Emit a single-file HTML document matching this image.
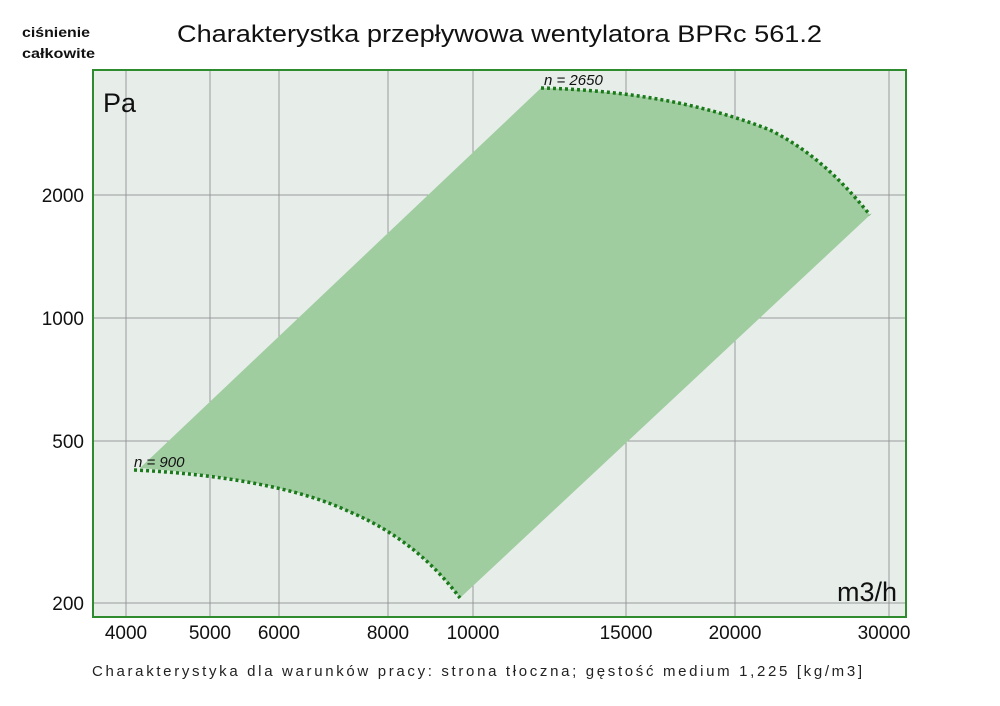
<!DOCTYPE html>
<html><head><meta charset="utf-8"><style>
body{margin:0;background:#fff;}
svg{display:block;font-family:"Liberation Sans","DejaVu Sans",sans-serif;}
</style></head><body>
<svg width="1000" height="706" viewBox="0 0 1000 706">
<rect x="0" y="0" width="1000" height="706" fill="#fff"/>
<text x="22" y="37" font-size="14" font-weight="bold" fill="#111" textLength="68" lengthAdjust="spacingAndGlyphs">ciśnienie</text>
<text x="22" y="58" font-size="14" font-weight="bold" fill="#111" textLength="73" lengthAdjust="spacingAndGlyphs">całkowite</text>
<text x="177" y="42" font-size="24" fill="#111" textLength="645" lengthAdjust="spacingAndGlyphs">Charakterystka przepływowa wentylatora BPRc 561.2</text>
<rect x="93" y="70" width="813" height="547" fill="#e7eeea"/>
<g stroke="#999" stroke-width="1">
<line x1="126" y1="70" x2="126" y2="617"/>
<line x1="210" y1="70" x2="210" y2="617"/>
<line x1="279" y1="70" x2="279" y2="617"/>
<line x1="388" y1="70" x2="388" y2="617"/>
<line x1="473" y1="70" x2="473" y2="617"/>
<line x1="626" y1="70" x2="626" y2="617"/>
<line x1="735" y1="70" x2="735" y2="617"/>
<line x1="889" y1="70" x2="889" y2="617"/>
<line x1="93" y1="195" x2="906" y2="195"/>
<line x1="93" y1="318" x2="906" y2="318"/>
<line x1="93" y1="441" x2="906" y2="441"/>
<line x1="93" y1="603" x2="906" y2="603"/>
</g>
<path d="M140,468 L541,88 C620,90 700,102 770,130 C810,150 840,178 870,215 L460,598 C435,565 400,533 350,512 C300,488 220,474 140,468 Z" fill="#a0cda0"/>
<path d="M134,470 C220,474 300,488 350,512 C400,533 435,565 460,598" fill="none" stroke="#1a7a1a" stroke-width="3.5" stroke-dasharray="3 3"/>
<path d="M541,88 C620,90 700,102 770,130 C810,150 840,178 870,215" fill="none" stroke="#1a7a1a" stroke-width="3.5" stroke-dasharray="3 3"/>
<rect x="93" y="70" width="813" height="547" fill="none" stroke="#2e8b2e" stroke-width="2"/>
<text x="134" y="467" font-size="15" fill="#111" font-style="italic">n = 900</text>
<text x="544" y="85" font-size="15" fill="#111" font-style="italic">n = 2650</text>
<text x="103" y="112" font-size="27" fill="#111">Pa</text>
<text x="897" y="601" font-size="27" fill="#111" text-anchor="end">m3/h</text>
<g font-size="19" fill="#111" text-anchor="end">
<text x="84" y="202">2000</text>
<text x="84" y="325">1000</text>
<text x="84" y="448">500</text>
<text x="84" y="610">200</text>
</g>
<g font-size="19" fill="#111" text-anchor="middle">
<text x="126" y="639">4000</text>
<text x="210" y="639">5000</text>
<text x="279" y="639">6000</text>
<text x="388" y="639">8000</text>
<text x="473" y="639">10000</text>
<text x="626" y="639">15000</text>
<text x="735" y="639">20000</text>
<text x="884" y="639">30000</text>
</g>
<text x="92" y="676" font-size="15" fill="#222" textLength="770" lengthAdjust="spacing">Charakterystyka dla warunków pracy: strona tłoczna; gęstość medium 1,225 [kg/m3]</text>
</svg>
</body></html>
